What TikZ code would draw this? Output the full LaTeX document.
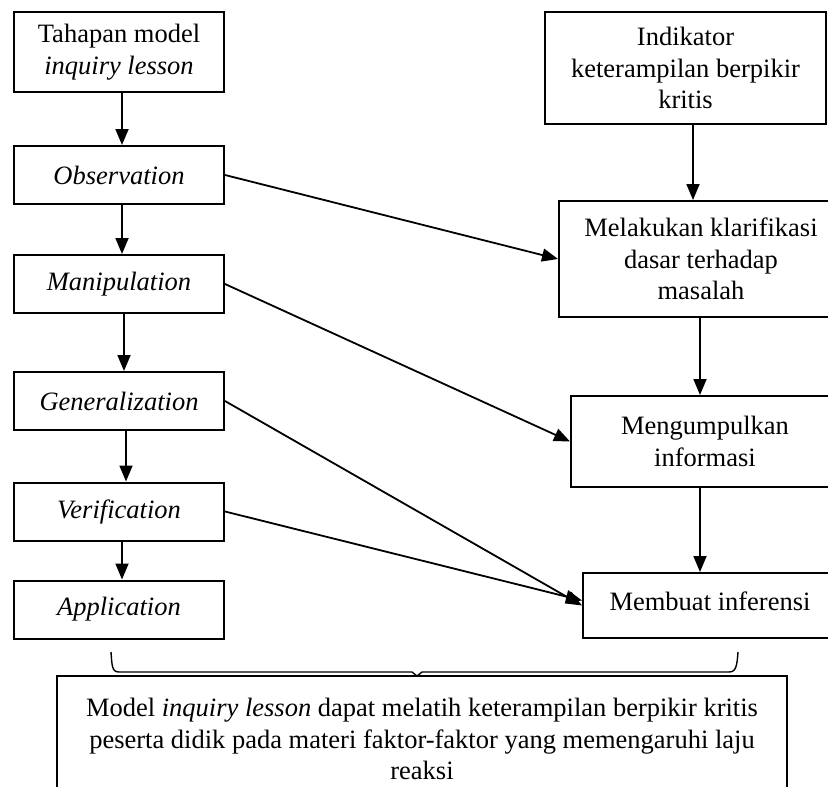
\documentclass[tikz,border=0pt]{standalone}
\usepackage{fontspec}
\setmainfont{Liberation Serif}
\usetikzlibrary{arrows.meta}
\newcommand{\teks}{\fontsize{26.5}{31.5}\selectfont}

\begin{document}
\begin{tikzpicture}[x=1pt, y=-1pt,
  kotak/.style={draw, line width=2pt, align=center, inner sep=2pt, font=\teks},
  tahap/.style={kotak, minimum width=210pt, minimum height=58pt, font=\teks\itshape},
  panah/.style={line width=1.8pt, -{Triangle[length=16pt,width=13pt]}}]
\useasboundingbox (0,0) rectangle (828,787);

% Tahapan inquiry lesson
\node[kotak, minimum width=210pt, minimum height=80pt] (tahapan) at (119,52) {Tahapan model\\\textit{inquiry lesson}};
\node[tahap] (observasi) at (119,175) {Observation};
\node[tahap] (manipulasi) at (119,284) {Manipulation};
\node[tahap] (generalisasi) at (119,401) {Generalization};
\node[tahap] (verifikasi) at (119,511.5) {Verification};
\node[tahap] (aplikasi) at (119,609.5) {Application};

% Indikator berpikir kritis
\node[kotak, minimum width=281pt, minimum height=112pt] (indikator) at (685.5,68) {Indikator\\keterampilan berpikir\\kritis};
\node[kotak, minimum width=284pt, minimum height=116pt] (klarifikasi) at (701,259) {Melakukan klarifikasi\\dasar terhadap\\masalah};
\node[kotak, minimum width=268pt, minimum height=91pt] (informasi) at (705,441.5) {Mengumpulkan\\informasi};
\node[kotak, minimum width=254pt, minimum height=65pt, text depth=8pt] (inferensi) at (710,605.5) {Membuat inferensi};

% Kesimpulan
\node[kotak, anchor=north, minimum width=730pt, minimum height=126pt] (kesimpulan) at (422,675) {Model \textit{inquiry lesson} dapat melatih keterampilan berpikir kritis\\peserta didik pada materi faktor-faktor yang memengaruhi laju\\reaksi};
\draw[line width=1.4pt] (111,652) .. controls (112,666) and (112,672) .. (119,672) -- (412,672) -- (417,676) -- (422,672) -- (729,672) .. controls (736,672) and (737,666) .. (738,652);

% Panah tahapan
\draw[panah] ([xshift=3pt]tahapan.south) -- ([xshift=3pt]observasi.north);
\draw[panah] ([xshift=3pt]observasi.south) -- ([xshift=3pt]manipulasi.north);
\draw[panah] ([xshift=5pt]manipulasi.south) -- ([xshift=5pt]generalisasi.north);
\draw[panah] ([xshift=7pt]generalisasi.south) -- ([xshift=7pt]verifikasi.north);
\draw[panah] ([xshift=3pt]verifikasi.south) -- ([xshift=3pt]aplikasi.north);

% Panah indikator
\draw[panah] ([xshift=7.5pt]indikator.south) -- ([xshift=-8pt]klarifikasi.north);
\draw[panah] ([xshift=-1pt]klarifikasi.south) -- ([xshift=-5pt]informasi.north);
\draw[panah] ([xshift=-5pt]informasi.south) -- ([xshift=-10pt]inferensi.north);

% Panah hubungan
\draw[panah] (observasi.east) -- (klarifikasi.west);
\draw[panah] (manipulasi.east) -- (informasi.west);
\draw[panah] (generalisasi.east) -- (inferensi.west);
\draw[panah] (verifikasi.east) -- ([yshift=5pt]inferensi.west);
\end{tikzpicture}
\end{document}
